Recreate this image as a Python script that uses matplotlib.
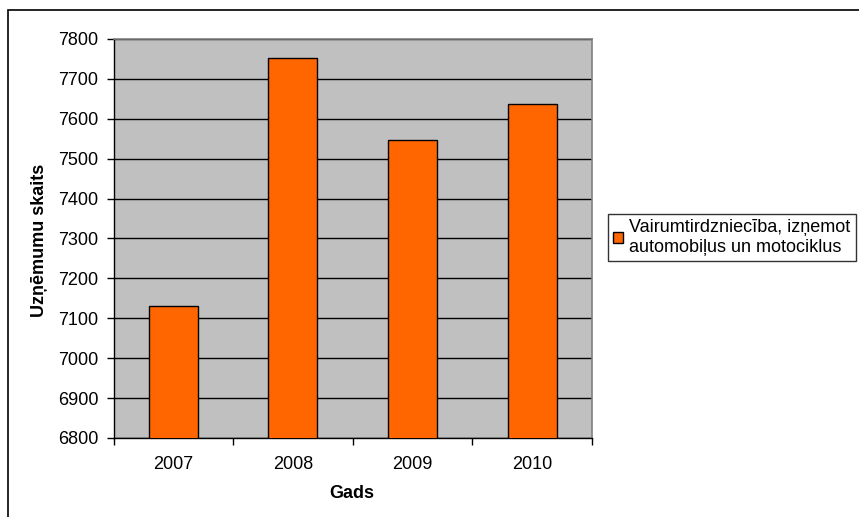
import matplotlib
matplotlib.use("Agg")
import matplotlib.pyplot as plt
from matplotlib.patches import Rectangle
from matplotlib.ticker import FixedLocator, NullFormatter

plt.rcParams['font.family'] = ['Liberation Sans', 'DejaVu Sans']

years = ['2007', '2008', '2009', '2010']
counts = [7130, 7753, 7547, 7636]
series_name = 'Vairumtirdzniecība, izņemot\nautomobiļus un motociklus'
y_ticks = [6800, 6900, 7000, 7100, 7200, 7300, 7400, 7500, 7600, 7700, 7800]

W, H = 859, 517
fig = plt.figure(figsize=(W / 100, H / 100), dpi=100)

# outer chart frame (only top and left edges fall inside the canvas)
fig.add_artist(Rectangle((8 / W, -0.1), 1.2, (H - 10) / H + 0.1,
                         transform=fig.transFigure, fill=False,
                         edgecolor='black', linewidth=1.2))

left, right, top, bottom = 113.5, 592, 39, 438
ax = fig.add_axes([left / W, (H - bottom) / H, (right - left) / W, (bottom - top) / H])
ax.set_facecolor('#C0C0C0')

x = list(range(len(years)))
ax.bar(x, counts, width=0.41, color='#FF6600', edgecolor='black',
       linewidth=1.0, zorder=3)

ax.set_ylim(6800, 7800)
ax.set_xlim(-0.5, len(years) - 0.5)
ax.set_yticks(y_ticks)
ax.set_yticklabels([str(v) for v in y_ticks], fontsize=13)
ax.yaxis.grid(True, color='black', linewidth=1.0, zorder=1)
ax.set_axisbelow(True)

# category labels centred, ticks on category boundaries
ax.set_xticks(x)
ax.set_xticklabels(years, fontsize=13)
ax.tick_params(axis='x', which='major', length=0, pad=13)
ax.xaxis.set_minor_locator(FixedLocator([i - 0.5 for i in range(len(years) + 1)]))
ax.xaxis.set_minor_formatter(NullFormatter())
ax.tick_params(axis='x', which='minor', length=5, width=1, direction='out', color='black')
ax.tick_params(axis='y', length=5, width=1, direction='out', pad=6)

for side in ('top', 'right'):
    ax.spines[side].set_color('#808080')
    ax.spines[side].set_linewidth(1.2)
for side in ('left', 'bottom'):
    ax.spines[side].set_color('black')
    ax.spines[side].set_linewidth(1.0)

fig.text(40 / W, (H - 240) / H, 'Uzņēmumu skaits', rotation=90, fontsize=13,
         fontweight='bold', ha='center', va='center')
fig.text(352 / W, (H - 494) / H, 'Gads', fontsize=13,
         fontweight='bold', ha='center', va='center')

handle = Rectangle((0, 0), 1, 1, facecolor='#FF6600', edgecolor='black', linewidth=1.0)
leg = fig.legend([handle], [series_name], loc='center left',
                 bbox_to_anchor=(607.5 / W, (H - 237.5) / H), fontsize=13,
                 frameon=True, fancybox=False, shadow=False,
                 handlelength=0.55, handleheight=0.55, handletextpad=0.35,
                 borderpad=0.3, borderaxespad=0, labelspacing=0.2)
leg.get_frame().set_edgecolor('black')
leg.get_frame().set_linewidth(1.0)

fig.savefig('out.png', dpi=100)
